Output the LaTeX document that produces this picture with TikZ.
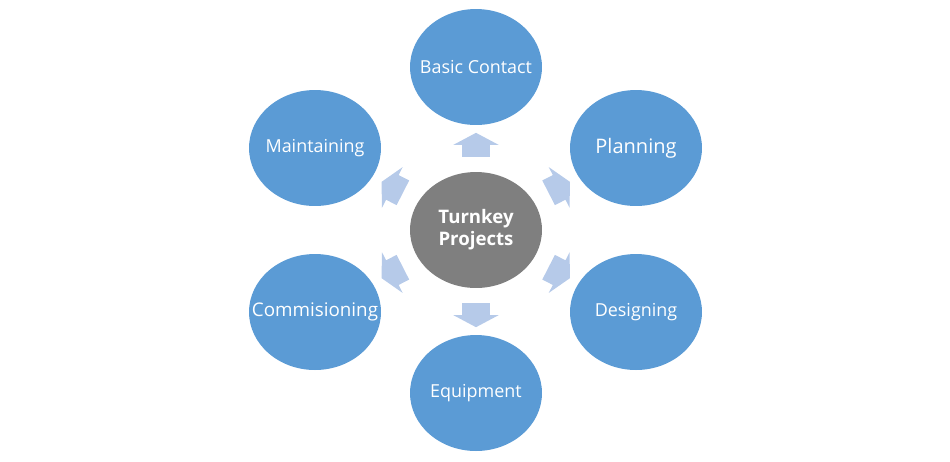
\documentclass[tikz,border=0pt]{standalone}
\usepackage{fontspec}
\setmainfont{Open Sans}
\usetikzlibrary{shapes.geometric,shapes.arrows}

\definecolor{leafblue}{RGB}{91,155,213}
\definecolor{hubgray}{RGB}{127,127,127}
\definecolor{arrowblue}{RGB}{182,202,233}

\tikzset{
  leaf/.style={ellipse, fill=leafblue, text=white, inner xsep=-0.4cm, inner ysep=0pt,
    minimum width=2.64cm, minimum height=2.32cm, font=\fontsize{10.2pt}{12pt}\selectfont},
  hub/.style={leaf, fill=hubgray, align=center, font=\bfseries\fontsize{10.6pt}{12.6pt}\selectfont},
  blockarrow/.style={single arrow, fill=arrowblue, inner xsep=0pt, inner ysep=0.27cm,
    minimum height=0.48cm, single arrow head extend=0.18cm, single arrow tip angle=124,
    sloped, allow upside down}
}

\begin{document}
\begin{tikzpicture}[x=0.02cm, y=-0.02cm]
\useasboundingbox (0,0) rectangle (950,461);
\node[hub] (hub) at (476,230) {Turnkey\\Projects};
\node[leaf] (basic) at (476,67) {Basic Contact};
\node[leaf, font=\fontsize{11.4pt}{13pt}\selectfont] (plan) at (636,148) {Planning};
\node[leaf] (design) at (636,312) {Designing};
\node[leaf] (equip) at (476,393) {Equipment};
\node[leaf, font=\fontsize{10.7pt}{13pt}\selectfont] (commis) at (315,312) {Commisioning};
\node[leaf] (maint) at (315,148) {Maintaining};
% arrows out of the hub
\foreach \leaf in {basic,plan,design,equip,commis,maint}
  \path (hub) -- node[blockarrow] (to-\leaf) {} (\leaf);
\end{tikzpicture}
\end{document}
